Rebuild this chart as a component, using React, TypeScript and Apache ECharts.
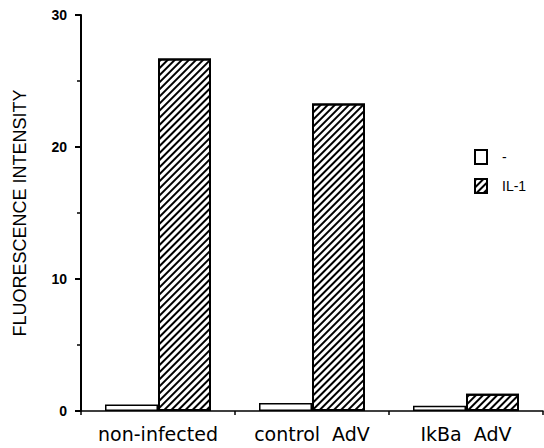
import React, { useEffect, useRef } from "react";
import * as echarts from "echarts";

const categories = ["non-infected", "control  AdV", "IkBa  AdV"];
const seriesNames = ["-", "IL-1"];
const controlValues = [0.5, 0.6, 0.4];
const il1Values = [26.7, 23.3, 1.3];
const yTicks = [0, 10, 20, 30];

export default function App() {
  const ref = useRef<HTMLDivElement>(null);
  useEffect(() => {
    if (!ref.current) return;
    const chart = echarts.init(ref.current, undefined, { renderer: "svg" });
    chart.setOption({
      animation: false,
      backgroundColor: "#fff",
      grid: { left: 81, right: 1, top: 15, bottom: 37 },
      legend: {
        orient: "vertical",
        left: 469,
        top: 144,
        icon: "rect",
        itemWidth: 12,
        itemHeight: 14,
        itemGap: 13,
        data: seriesNames,
        itemStyle: { borderWidth: 2, borderColor: "#000" },
        textStyle: {
          fontFamily: "Liberation Sans",
          fontSize: 14,
          color: "#000",
          padding: [0, 0, 0, 10],
        },
      },
      xAxis: {
        type: "category",
        data: categories,
        axisLine: { lineStyle: { color: "#000", width: 1.5 } },
        axisTick: { show: true, length: 4, lineStyle: { color: "#000", width: 1.5 } },
        axisLabel: {
          color: "#000",
          fontFamily: "DejaVu Sans",
          fontSize: 19,
          margin: 13,
          interval: 0,
        },
      },
      yAxis: {
        type: "value",
        min: 0,
        max: 30,
        interval: 10,
        name: "FLUORESCENCE INTENSITY",
        nameLocation: "middle",
        nameGap: 52,
        nameTextStyle: {
          fontFamily: "Liberation Sans",
          fontSize: 18,
          color: "#000",
        },
        splitLine: { show: false },
        axisLine: { show: true, lineStyle: { color: "#000", width: 2 } },
        axisTick: { show: true, length: 6, lineStyle: { color: "#000", width: 2 } },
        minorTick: { show: true, splitNumber: 2, length: 4, lineStyle: { color: "#000", width: 1.5 } },
        axisLabel: {
          color: "#000",
          fontFamily: "Liberation Sans",
          fontWeight: "bold",
          fontSize: 14,
          margin: 14,
          formatter: (v: number) => (yTicks.includes(v) ? String(v) : ""),
        },
      },
      series: [
        {
          name: seriesNames[0],
          type: "bar",
          data: controlValues,
          barWidth: 53,
          barGap: "0%",
          itemStyle: { color: "#fff", borderColor: "#000", borderWidth: 1.5 },
        },
        {
          name: seriesNames[1],
          type: "bar",
          data: il1Values,
          barWidth: 53,
          barGap: "0%",
          itemStyle: {
            color: "#fff",
            borderColor: "#000",
            borderWidth: 2,
            decal: {
              symbol: "rect",
              color: "#000",
              backgroundColor: "#fff",
              dashArrayX: [1, 0],
              dashArrayY: [2, 2.5],
              rotation: -Math.PI / 4,
            },
          },
        },
      ],
    });
    return () => chart.dispose();
  }, []);
  return <div ref={ref} style={{ width: 544, height: 448, position: "absolute", left: 0, top: 0 }} />;
}
